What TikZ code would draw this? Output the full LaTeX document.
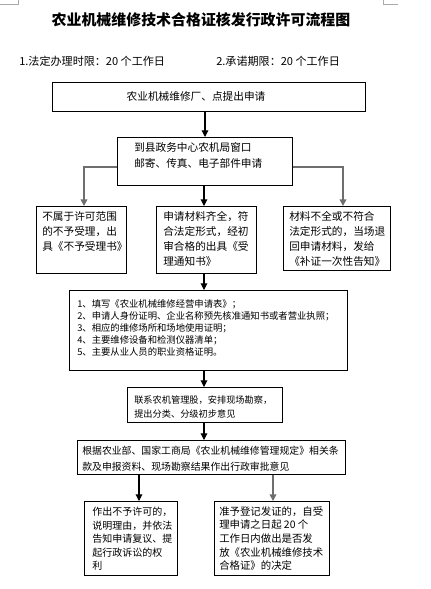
\documentclass[tikz,border=0pt]{standalone}
\usepackage{fontspec}
\setmainfont{Noto Sans CJK SC}
\usetikzlibrary{arrows.meta}
\definecolor{lgray}{RGB}{110,110,110}
\definecolor{mgray}{RGB}{170,170,170}
\tikzset{
  box/.style={draw=black, line width=0.9pt, anchor=north west, inner sep=0pt},
  txt/.style={anchor=north west, inner sep=0pt, align=left},
  arr/.style={draw=black, line width=0.8pt, -{Triangle[length=5pt,width=5pt]}},
  garr/.style={draw=lgray, line width=1.2pt, -{Triangle[length=5pt,width=5pt]}},
  cornermark/.style={draw=mgray, line width=0.6pt}
}
\newcommand{\bx}[5]{\node[box, minimum width=#4*0.75pt, minimum height=#5*0.75pt] (#1) at (#2,#3) {};}
\begin{document}
\begin{tikzpicture}[x=0.75pt,y=-0.75pt]
\useasboundingbox (0,0) rectangle (430,589);
% page corner marks
\draw[cornermark] (0,4) -- (18,4) -- (18,0);
\draw[cornermark] (398,4) -- (383,4) -- (383,0);
% title
\node[inner sep=0pt, font=\fontsize{11.2}{13}\selectfont\bfseries] (title) at (201,20) {农业机械维修技术合格证核发行政许可流程图};
\node[anchor=west, inner sep=0pt, font=\fontsize{8.3}{10}\selectfont] (t1) at (19,61) {1.法定办理时限：20 个工作日};
\node[anchor=west, inner sep=0pt, font=\fontsize{8.3}{10}\selectfont] (t2) at (216,61) {2.承诺期限：20 个工作日};
% boxes
\bx{b1}{52}{82}{313}{29}
\bx{b2}{117}{137}{175}{48}
\bx{b3l}{36}{206}{90}{67}
\bx{b3m}{156}{206}{100}{67}
\bx{b3r}{283}{206}{107}{64}
\bx{b4}{69}{290}{278}{80}
\bx{b5}{127}{387}{155}{35}
\bx{b6}{77}{440}{268}{34}
\bx{b7}{84}{501}{93}{74}
\bx{b8}{214}{501}{115}{74}
% texts
\node[inner sep=0pt, font=\fontsize{8}{10}\selectfont] (x1) at (196,96) {农业机械维修厂、点提出申请};
\node[txt, font=\fontsize{8}{12}\selectfont] (x2) at (134,142) {到县政务中心农机局窗口\\邮寄、传真、电子部件申请};
\node[txt, font=\fontsize{8}{11.25}\selectfont] (x3l) at (42,211) {不属于许可范围\\的不予受理，出\\具《不予受理书》};
\node[txt, font=\fontsize{8}{11.25}\selectfont] (x3m) at (163,211) {申请材料齐全，符\\合法定形式，经初\\审合格的出具《受\\理通知书》};
\node[txt, font=\fontsize{8}{11.25}\selectfont] (x3r) at (289,211) {材料不全或不符合\\法定形式的，当场退\\回申请材料，发给\\《补证一次性告知》};
\node[txt, font=\fontsize{7}{9}\selectfont] (x4) at (77,299) {1、填写《农业机械维修经营申请表》；\\2、申请人身份证明、企业名称预先核准通知书或者营业执照；\\3、相应的维修场所和场地使用证明；\\4、主要维修设备和检测仪器清单；\\5、主要从业人员的职业资格证明。};
\node[txt, font=\fontsize{6.9}{10.5}\selectfont] (x5) at (134,395) {联系农机管理股，安排现场勘察，\\提出分类、分级初步意见};
\node[txt, font=\fontsize{7.4}{12}\selectfont] (x6) at (82,446) {根据农业部、国家工商局《农业机械维修管理规定》相关条\\款及申报资料、现场勘察结果作出行政审批意见};
\node[txt, font=\fontsize{7.5}{10.1}\selectfont] (x7) at (92,507) {作出不予许可的，\\说明理由，并依法\\告知申请复议、提\\起行政诉讼的权\\利};
\node[txt, font=\fontsize{7.8}{10.3}\selectfont] (x8) at (219,506) {准予登记发证的，自受\\理申请之日起 20 个\\工作日内做出是否发\\放《农业机械维修技术\\合格证》的决定};
% connectors
\coordinate (cl) at (84,167);
\coordinate (cr) at (343,167);
\draw[arr] (b1.south -| 205,0) -- (b2.north -| 205,0);
\draw[garr] (b2.west |- cl) -- (cl) -- (b3l.north -| cl);
\draw[garr] (b2.east |- cr) -- (cr) -- (b3r.north -| cr);
\draw[arr] (b2.south -| 204,0) -- (b3m.north -| 204,0);
\draw[arr] (b3m.south -| 204,0) -- (b4.north -| 204,0);
\draw[arr] (b4.south -| 204,0) -- (b5.north -| 204,0);
\draw[arr] (b5.south -| 204,0) -- (b6.north -| 204,0);
\draw[arr] (b6.south -| 139,0) -- (b7.north -| 139,0);
\draw[garr] (b6.south -| 273,0) -- (b8.north -| 273,0);
\end{tikzpicture}
\end{document}
